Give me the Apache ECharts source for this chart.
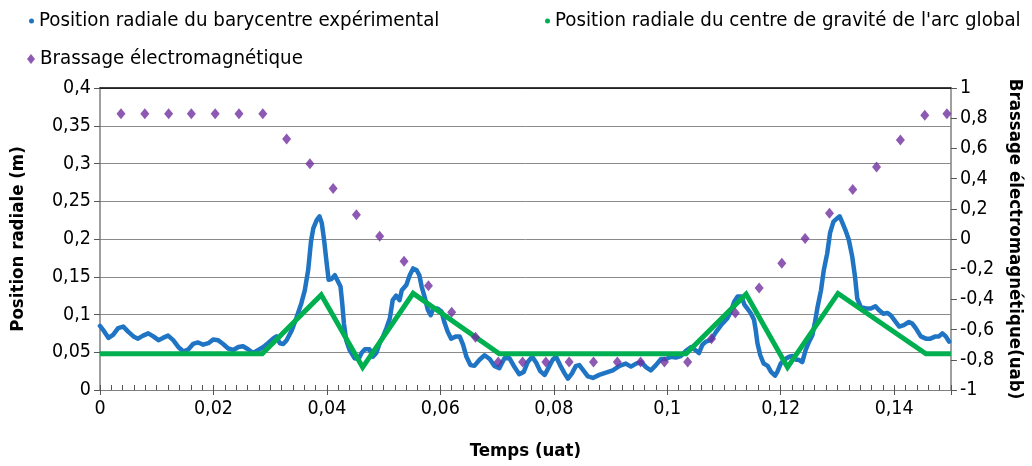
<!DOCTYPE html>
<html>
<head>
<meta charset="utf-8">
<script src="https://cdn.jsdelivr.net/npm/echarts@6/dist/echarts.min.js"></script>
<style>
html,body{margin:0;padding:0;background:#fff;}
#c{width:1032px;height:466px;}
</style>
</head>
<body>
<div id="c"></div>
<script>
// ---- Data ----
const seriesNames = [
  'Position radiale du barycentre expérimental',
  "Position radiale du centre de gravité de l'arc global",
  'Brassage électromagnétique'
];
const blueT = [0,0.0006,0.0015,0.0023,0.0032,0.0041,0.0050,0.0059,0.0067,0.0076,0.0085,0.0094,0.0103,0.0111,0.0120,0.0129,0.0138,0.0147,0.0156,0.0164,0.0173,0.0182,0.0191,0.0200,0.0208,0.0217,0.0226,0.0235,0.0244,0.0252,0.0261,0.0270,0.0279,0.0288,0.0296,0.0305,0.0311,0.0317,0.0323,0.0329,0.0338,0.0346,0.0355,0.0361,0.0367,0.0372,0.0376,0.0382,0.0387,0.0391,0.0395,0.0399,0.0403,0.0408,0.0414,0.0420,0.0424,0.0427,0.0430,0.0434,0.0440,0.0449,0.0456,0.0461,0.0467,0.0475,0.0481,0.0487,0.0493,0.0499,0.0505,0.0511,0.0516,0.0522,0.0528,0.0532,0.0540,0.0546,0.0552,0.0558,0.0563,0.0567,0.0572,0.0578,0.0583,0.0587,0.0595,0.0602,0.0607,0.0613,0.0619,0.0628,0.0634,0.0640,0.0646,0.0653,0.0660,0.0669,0.0678,0.0687,0.0695,0.0704,0.0713,0.0722,0.0731,0.0739,0.0747,0.0754,0.0762,0.0769,0.0776,0.0784,0.0791,0.0798,0.0804,0.0811,0.0819,0.0825,0.0832,0.0839,0.0845,0.0852,0.0860,0.0869,0.0880,0.0892,0.0904,0.0916,0.0927,0.0936,0.0945,0.0954,0.0963,0.0971,0.0980,0.0989,0.0998,0.1007,0.1015,0.1024,0.1033,0.1042,0.1051,0.1056,0.1062,0.1068,0.1077,0.1086,0.1095,0.1100,0.1106,0.1112,0.1118,0.1124,0.1131,0.1136,0.1141,0.1147,0.1153,0.1156,0.1159,0.1164,0.1170,0.1177,0.1183,0.1190,0.1194,0.1200,0.1206,0.1215,0.1221,0.1227,0.1232,0.1238,0.1244,0.1250,0.1256,0.1260,0.1265,0.1271,0.1276,0.1282,0.1287,0.1293,0.1299,0.1304,0.1309,0.1315,0.1320,0.1326,0.1331,0.1335,0.1341,0.1350,0.1359,0.1367,0.1373,0.1381,0.1388,0.1394,0.1400,0.1409,0.1417,0.1426,0.1432,0.1438,0.1447,0.1456,0.1464,0.1473,0.1479,0.1485,0.1491,0.1497];
const blueV = [0.0848,0.079,0.069,0.073,0.082,0.084,0.077,0.071,0.068,0.072,0.075,0.071,0.066,0.069,0.072,0.066,0.057,0.051,0.054,0.061,0.063,0.060,0.062,0.067,0.066,0.061,0.055,0.053,0.057,0.058,0.054,0.049,0.053,0.057,0.062,0.068,0.071,0.062,0.061,0.066,0.079,0.095,0.115,0.132,0.159,0.197,0.214,0.225,0.230,0.221,0.199,0.172,0.146,0.147,0.152,0.143,0.137,0.115,0.088,0.066,0.053,0.042,0.041,0.049,0.054,0.054,0.044,0.049,0.062,0.071,0.082,0.095,0.119,0.125,0.119,0.132,0.139,0.152,0.161,0.159,0.152,0.137,0.124,0.106,0.099,0.107,0.108,0.104,0.090,0.077,0.068,0.071,0.071,0.060,0.044,0.033,0.032,0.040,0.046,0.041,0.032,0.029,0.042,0.042,0.030,0.021,0.024,0.037,0.044,0.036,0.025,0.020,0.030,0.040,0.044,0.033,0.022,0.015,0.022,0.032,0.033,0.026,0.018,0.016,0.020,0.023,0.026,0.032,0.035,0.031,0.035,0.037,0.030,0.026,0.033,0.041,0.041,0.044,0.043,0.045,0.052,0.057,0.052,0.049,0.060,0.064,0.066,0.077,0.086,0.090,0.095,0.104,0.117,0.124,0.124,0.113,0.108,0.102,0.093,0.079,0.062,0.046,0.035,0.032,0.024,0.019,0.024,0.035,0.040,0.044,0.045,0.040,0.040,0.037,0.053,0.064,0.073,0.088,0.110,0.132,0.159,0.181,0.208,0.223,0.227,0.230,0.221,0.210,0.199,0.177,0.150,0.121,0.110,0.108,0.108,0.111,0.106,0.101,0.102,0.099,0.093,0.084,0.086,0.090,0.088,0.082,0.071,0.068,0.068,0.071,0.071,0.075,0.071,0.064];
const greenT = [0, 0.0286, 0.0390, 0.0463, 0.0552, 0.0704, 0.1033, 0.1139, 0.1212, 0.1301, 0.1456, 0.1500];
const greenV = [0.048, 0.048, 0.126, 0.030, 0.128, 0.048, 0.048, 0.127, 0.030, 0.128, 0.048, 0.048];
const brassT = [0.0037,0.0079,0.0121,0.0161,0.0203,0.0245,0.0287,0.0329,0.0370,0.0411,0.0452,0.0493,0.0536,0.0579,0.0620,0.0662,0.0702,0.0745,0.0786,0.0827,0.0870,0.0912,0.0953,0.0995,0.1036,0.1078,0.1120,0.1162,0.1202,0.1243,0.1286,0.1327,0.1369,0.1411,0.1454,0.1493];
const brassV = [0.83,0.83,0.83,0.83,0.83,0.83,0.83,0.663,0.498,0.335,0.16,0.018,-0.147,-0.31,-0.485,-0.65,-0.815,-0.815,-0.815,-0.815,-0.815,-0.815,-0.815,-0.815,-0.815,-0.66,-0.49,-0.325,-0.16,0.003,0.17,0.327,0.477,0.655,0.82,0.83];

const axisNames = { x: 'Temps (uat)', yLeft: 'Position radiale (m)', yRight: 'Brassage électromagnétique(uab)' };

// ---- Build ----
const FONT = "'Liberation Sans Narrow', 'DejaVu Sans Condensed', sans-serif";
const zip = (a, b) => a.map((v, i) => [v, b[i]]);
const fmt = (d) => (v) => String(+(+v).toFixed(d)).replace('.', ',');

const chart = echarts.init(document.getElementById('c'), null, { renderer: 'canvas' });
const labelStyle = { color: '#000', fontFamily: FONT, fontSize: 19.5 };
const nameStyle = { color: '#000', fontFamily: FONT, fontSize: 18.5, fontWeight: 'bold' };
const legendText = { color: '#000', fontFamily: FONT, fontSize: 20.3 };

chart.setOption({
  animation: false,
  backgroundColor: '#fff',
  grid: { left: 100, right: 80, top: 88, bottom: 76, containLabel: false },
  legend: [
    { data: [seriesNames[0]], left: 24, top: 6, icon: 'circle', itemWidth: 5, itemHeight: 5, textStyle: legendText },
    { data: [seriesNames[1]], left: 540, top: 6, icon: 'circle', itemWidth: 5, itemHeight: 5, textStyle: legendText },
    { data: [seriesNames[2]], left: 22, top: 44, icon: 'diamond', itemWidth: 8, itemHeight: 10, textStyle: legendText }
  ],
  xAxis: [
    {
      type: 'value', min: 0, max: 0.15, interval: 0.02, position: 'bottom',
      name: axisNames.x, nameLocation: 'middle', nameGap: 52, nameTextStyle: nameStyle,
      axisLine: { show: true, onZero: false, lineStyle: { color: '#7f7f7f', width: 1.2 } },
      axisTick: { show: true, inside: true, length: 5, lineStyle: { color: '#555' } },
      minorTick: { show: true, splitNumber: 10, length: 5, lineStyle: { color: '#555' } },
      axisLabel: { ...labelStyle, margin: 9, formatter: fmt(2), showMaxLabel: false },
      splitLine: { show: false }
    },
    {
      type: 'value', min: 0, max: 0.15, interval: 0.02, position: 'bottom',
      axisLine: { show: false, onZero: false },
      axisTick: { show: true, inside: false, length: 5, lineStyle: { color: '#555' } },
      axisLabel: { show: false }, splitLine: { show: false }
    },
    {
      type: 'value', min: 0, max: 0.15, position: 'top',
      axisLine: { show: true, onZero: false, lineStyle: { color: '#000', width: 1.5 } },
      axisTick: { show: false }, axisLabel: { show: false }, splitLine: { show: false }
    }
  ],
  yAxis: [
    {
      type: 'value', min: 0, max: 0.4, interval: 0.05, position: 'left',
      name: axisNames.yLeft, nameLocation: 'middle', nameGap: 72, nameTextStyle: nameStyle,
      axisLine: { show: true, onZero: false, lineStyle: { color: '#7f7f7f', width: 1.5 } },
      axisTick: { show: true, inside: false, length: 6, lineStyle: { color: '#555' } },
      axisLabel: { ...labelStyle, margin: 9, formatter: fmt(2) },
      splitLine: { show: true, lineStyle: { color: '#8a8a8a', width: 1 } }
    },
    {
      type: 'value', min: -1, max: 1, interval: 0.2, position: 'right',
      name: axisNames.yRight, nameLocation: 'middle', nameGap: 54, nameRotate: -90, nameTextStyle: nameStyle,
      axisLine: { show: true, onZero: false, lineStyle: { color: '#7f7f7f', width: 1.5 } },
      axisTick: { show: true, inside: false, length: 6, lineStyle: { color: '#555' } },
      axisLabel: { ...labelStyle, margin: 9, formatter: fmt(1) },
      splitLine: { show: false }
    }
  ],
  series: [
    {
      name: seriesNames[0], type: 'line', xAxisIndex: 0, yAxisIndex: 0,
      data: zip(blueT, blueV), showSymbol: false, symbol: 'circle',
      itemStyle: { color: '#1f74c4' },
      lineStyle: { color: '#1f74c4', width: 4.5, cap: 'round', join: 'round' },
      z: 2
    },
    {
      name: seriesNames[1], type: 'line', xAxisIndex: 0, yAxisIndex: 0,
      data: zip(greenT, greenV), showSymbol: false, symbol: 'circle',
      itemStyle: { color: '#00b050' },
      lineStyle: { color: '#00b050', width: 5, join: 'miter' },
      z: 3
    },
    {
      name: seriesNames[2], type: 'scatter', xAxisIndex: 0, yAxisIndex: 1,
      data: zip(brassT, brassV), symbol: 'diamond', symbolSize: [9, 11],
      itemStyle: { color: '#7030a0' },
      z: 4
    }
  ]
});
</script>
</body>
</html>
